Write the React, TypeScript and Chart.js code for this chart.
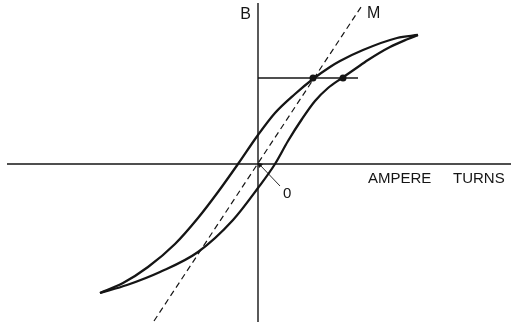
import React, { useEffect, useRef } from "react";
import { Chart, registerables } from "chart.js";

Chart.register(...registerables);

// Data coordinates: x = ampere turns (arbitrary units), y = B (arbitrary units)
const upperBranchX = [160, 139, 105, 82, 72, 55, 37, 17, 0, -20, -40, -60, -83, -110, -135, -158];
const upperBranchY = [129, 126, 114, 103, 97, 85, 70, 51, 29, 0, -28, -54, -80, -103, -119, -129];
const lowerBranchX = [-158, -131, -98, -60, -25, 0, 17, 30, 44, 57, 70, 84, 97, 110, 132, 150, 160];
const lowerBranchY = [-129, -121, -108, -88, -56, -24, 0, 23, 45, 63, 76, 86, 95, 104, 117, 125, 129];
const lineMX = [-104, 105];
const lineMY = [-157, 160];
const levelLineX = [0, 100];
const levelLineY = [86, 86];
const dotX = [55, 85];
const dotY = [86, 86];
const hAxisX = [-251, 253];
const hAxisY = [0, 0];
const vAxisX = [0, 0];
const vAxisY = [161, -158];
const leaderX = [2, 22];
const leaderY = [-1, -22];

const labelTexts = ["B", "M", "AMPERE", "TURNS", "0"];
const labelX = [-7, 109, 110, 195, 25];
const labelY = [145, 146, -19, -19, -34];
const labelAlign = ["right", "left", "left", "left", "left"];

const X_MIN = -258;
const X_MAX = 253;
const Y_MIN = -161;
const Y_MAX = 164;

const toPts = (xs: number[], ys: number[]) => xs.map((x, i) => ({ x, y: ys[i] }));

const INK = "#151515";

const labelPlugin = {
  id: "labels",
  afterDatasetsDraw(chart: any) {
    const { ctx, scales } = chart;
    ctx.save();
    ctx.fillStyle = INK;
    ctx.textBaseline = "alphabetic";
    labelTexts.forEach((t, i) => {
      const px = scales.x.getPixelForValue(labelX[i]);
      const py = scales.y.getPixelForValue(labelY[i]);
      const big = t === "B" || t === "M";
      ctx.font = (big ? "16px" : "15px") + ' "Liberation Sans", Arial, sans-serif';
      ctx.textAlign = labelAlign[i] as CanvasTextAlign;
      ctx.fillText(t, px, py);
    });
    ctx.restore();
  },
};

export default function App() {
  const ref = useRef<HTMLCanvasElement | null>(null);
  useEffect(() => {
    if (!ref.current) return;
    const solid = (data: any[], width: number, extra: any = {}) => ({
      data,
      showLine: true,
      borderColor: INK,
      backgroundColor: INK,
      borderWidth: width,
      pointRadius: 0,
      fill: false,
      clip: false,
      ...extra,
    });
    const chart = new Chart(ref.current, {
      type: "scatter",
      data: {
        datasets: [
          solid(toPts(hAxisX, hAxisY), 1.4),
          solid(toPts(vAxisX, vAxisY), 1.4),
          solid(toPts(levelLineX, levelLineY), 1.4),
          solid(toPts(lineMX, lineMY), 1.2, { borderDash: [6, 4] }),
          solid(toPts(upperBranchX, upperBranchY), 2.3, { cubicInterpolationMode: "monotone" }),
          solid(toPts(lowerBranchX, lowerBranchY), 2.3, { cubicInterpolationMode: "monotone" }),
          solid(toPts(leaderX, leaderY), 0.9, {
            pointRadius: [2.5, 0],
            pointStyle: "triangle",
            pointRotation: -45,
          }),
          {
            data: toPts(dotX, dotY),
            showLine: false,
            pointRadius: 3.5,
            backgroundColor: INK,
            borderColor: INK,
            borderWidth: 0,
          },
        ],
      },
      options: {
        animation: false,
        responsive: false,
        maintainAspectRatio: false,
        layout: { padding: 0, autoPadding: false },
        plugins: { legend: { display: false }, tooltip: { enabled: false } },
        scales: {
          x: { type: "linear", min: X_MIN, max: X_MAX, display: false },
          y: { type: "linear", min: Y_MIN, max: Y_MAX, display: false },
        },
      },
      plugins: [labelPlugin],
    });
    return () => chart.destroy();
  }, []);
  return (
    <div style={{ position: "absolute", left: 0, top: 0, width: 511, height: 325, background: "#fff" }}>
      <canvas ref={ref} width={511} height={325} style={{ display: "block" }} />
    </div>
  );
}
